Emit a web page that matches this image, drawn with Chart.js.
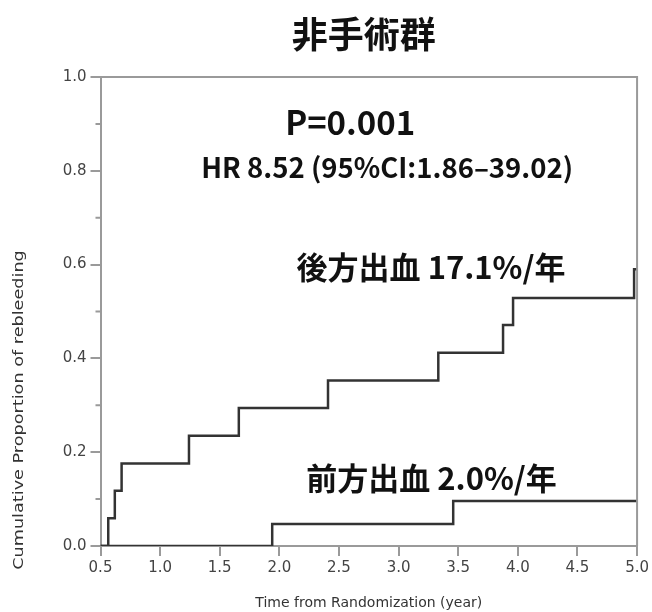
<!DOCTYPE html>
<html>
<head>
<meta charset="utf-8">
<script src="https://cdn.jsdelivr.net/npm/chart.js@4.4.1/dist/chart.umd.min.js"></script>
<style>
  body { margin: 0; background: #ffffff; }
  #wrap { width: 652px; height: 612px; position: relative; }
</style>
</head>
<body>
<div id="wrap"><canvas id="km_chart"></canvas></div>
<script>
// Kaplan-Meier curves (time in years, cumulative proportion)
var posteriorTimes  = [0.5, 0.565, 0.62, 0.677, 1.242, 1.66, 2.408, 3.333, 3.876, 3.96, 4.975, 5.0];
var posteriorValues = [0, 0.059, 0.118, 0.176, 0.235, 0.294, 0.353, 0.412, 0.471, 0.529, 0.59, 0.59];

var anteriorTimes  = [0.5, 1.94, 3.458, 5.0];
var anteriorValues = [0, 0.047, 0.096, 0.096];

var yMinorTicks = [0.1, 0.3, 0.5, 0.7, 0.9];

var chartTitle = '非手術群';
var xAxisTitle = 'Time from Randomization (year)';
var yAxisTitle = 'Cumulative Proportion of rebleeding';
var annotationTexts = ['P=0.001', 'HR 8.52 (95%CI:1.86–39.02)', '後方出血 17.1%/年', '前方出血 2.0%/年'];

function toPoints(times, values)
{
  return times.map(function(t, i) { return { x: t, y: values[i] }; });
}

var axisGrey = '#9a9a9a';
var cjkBold = '"Noto Sans CJK JP", "Noto Sans", sans-serif';

// text placed in data coordinates, drawn through the scales
var annotations =
[
  { text: annotationTexts[0], x: 2.594, y: 0.904, size: 33 },
  { text: annotationTexts[1], x: 2.904, y: 0.808, size: 27.5 },
  { text: annotationTexts[2], x: 3.272, y: 0.595, size: 31 },
  { text: annotationTexts[3], x: 3.276, y: 0.145, size: 31 }
];

var extrasPlugin =
{
  id: 'kmExtras',
  afterDraw: function(chart)
  {
    var ctx = chart.ctx;
    var area = chart.chartArea;
    var xs = chart.scales.x;
    var ys = chart.scales.y;

    ctx.save();

    // top and right frame
    ctx.strokeStyle = axisGrey;
    ctx.lineWidth = 2;
    ctx.beginPath();
    ctx.moveTo(area.left, area.top);
    ctx.lineTo(area.right, area.top);
    ctx.lineTo(area.right, area.bottom);
    ctx.stroke();

    // minor y ticks
    ctx.beginPath();
    yMinorTicks.forEach(function(v)
    {
      var py = ys.getPixelForValue(v);
      ctx.moveTo(area.left - 5, py);
      ctx.lineTo(area.left, py);
    });
    ctx.stroke();

    ctx.fillStyle = '#111111';
    ctx.textAlign = 'center';
    ctx.textBaseline = 'middle';

    ctx.font = 'bold 36px ' + cjkBold;
    ctx.fillText(chartTitle, xs.getPixelForValue(2.707), 34);

    annotations.forEach(function(a)
    {
      ctx.font = 'bold ' + a.size + 'px ' + cjkBold;
      ctx.fillText(a.text, xs.getPixelForValue(a.x), ys.getPixelForValue(a.y));
    });

    // y axis title, sits lower than the centre of the axis and is stretched in the original
    ctx.fillStyle = '#333333';
    ctx.font = '14px "DejaVu Sans", sans-serif';
    ctx.translate(19, ys.getPixelForValue(0.29));
    ctx.rotate(-Math.PI / 2);
    ctx.scale(1.26, 1);
    ctx.fillText(yAxisTitle, 0, 0);

    ctx.restore();
  }
};

var kmData =
{
  datasets:
  [{
    label: '後方出血',
    data: toPoints(posteriorTimes, posteriorValues),
    borderColor: '#333333',
    borderWidth: 2.5,
    stepped: 'before',
    pointRadius: 0,
    fill: false
  },
  {
    label: '前方出血',
    data: toPoints(anteriorTimes, anteriorValues),
    borderColor: '#333333',
    borderWidth: 2.5,
    stepped: 'before',
    pointRadius: 0,
    fill: false
  }]
};

var kmOptions =
{
  responsive: true,
  maintainAspectRatio: false,
  animation: false,
  layout: { padding: { top: 77, right: 13.5, left: 0, bottom: 0 } },
  plugins:
  {
    legend: { display: false },
    tooltip: { enabled: false }
  },
  scales:
  {
    x:
    {
      type: 'linear',
      min: 0.5,
      max: 5.0,
      afterFit: function(scale) { scale.height = 66; },
      ticks:
      {
        stepSize: 0.5,
        color: '#444444',
        padding: 3,
        font: { family: '"DejaVu Sans", sans-serif', size: 15 },
        callback: function(v) { return v.toFixed(1); }
      },
      grid: { drawOnChartArea: false, color: axisGrey, tickLength: 10, lineWidth: 2 },
      border: { color: axisGrey, width: 2 },
      title:
      {
        display: true,
        text: xAxisTitle,
        color: '#333333',
        font: { family: '"DejaVu Sans", sans-serif', size: 14 },
        padding: { top: 14, bottom: 0 }
      }
    },
    y:
    {
      min: 0,
      max: 1,
      afterFit: function(scale) { scale.width = 100.5; },
      ticks:
      {
        stepSize: 0.2,
        color: '#444444',
        padding: 4,
        font: { family: '"DejaVu Sans", sans-serif', size: 15 },
        callback: function(v) { return v.toFixed(1); }
      },
      grid: { drawOnChartArea: false, color: axisGrey, tickLength: 10, lineWidth: 2 },
      border: { color: axisGrey, width: 2 }
    }
  }
};

var kmChart = new Chart(document.getElementById('km_chart').getContext('2d'),
{
  type: 'line',
  data: kmData,
  options: kmOptions,
  plugins: [extrasPlugin]
});
</script>
</body>
</html>
